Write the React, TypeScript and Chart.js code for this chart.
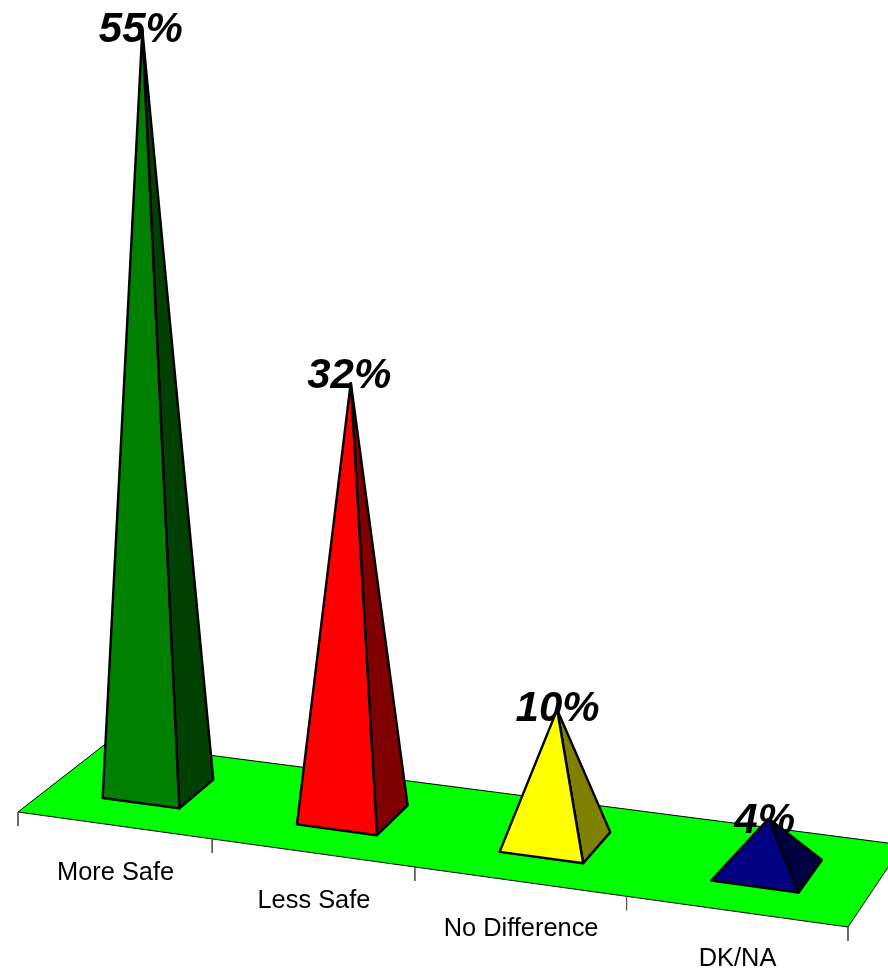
import React, { useEffect, useRef } from "react";
import { Chart, registerables } from "chart.js";

Chart.register(...registerables);

const categories = ["More Safe", "Less Safe", "No Difference", "DK/NA"];
const values = [55, 32, 10, 4];
const valueLabels = ["55%", "32%", "10%", "4%"];
const frontColors = ["#008000", "#FF0000", "#FFFF00", "#000080"];
const sideColors = ["#004000", "#800000", "#808000", "#000040"];
const floorColor = "#00FF00";

const WIDTH = 888;
const HEIGHT = 974;

type Pt = { x: number; y: number };

// Floor homography: u along the categories (0..1), v in depth (0..1)
const A = 758.97, B = 95.38, C = 18, D = 37.35, E = -33.03, F = 812, G = -0.08376, H = 0.04982;
const HALF_WIDTH = 0.2;
const DEPTH_FRONT = 0.3;
const DEPTH_BACK = 0.7;

// Label placement relative to each apex, in pixels
const labelShiftX = [-1.5, -1.5, 0.5, -4];
const labelShiftY = [12, 6, 11, 14.5];

const floorW = (t: number, v: number) => (G * t) / categories.length + H * v + 1;
const floorPt = (t: number, v: number): Pt => {
  const u = t / categories.length;
  const w = floorW(t, v);
  return { x: (A * u + B * v + C) / w, y: (D * u + E * v + F) / w };
};
const apexPt = (t: number, value: number): Pt => {
  const base = floorPt(t, 0.5);
  return {
    x: base.x + (base.x - 400) * value * 0.0012,
    y: base.y - 13.6 * floorW(t, 0.5) * value,
  };
};

function polygon(points: Pt[], fillColor: string, lineWidth: number) {
  return {
    data: [...points, points[0]],
    showLine: true,
    pointRadius: 0,
    borderColor: "#000000",
    borderWidth: lineWidth,
    borderJoinStyle: "round",
    backgroundColor: fillColor,
    tension: 0,
    clip: false,
    polyFill: true,
  };
}

function buildDatasets() {
  const n = categories.length;
  const list: any[] = [];
  list.push({ ...polygon([floorPt(0, 0), floorPt(n, 0), floorPt(n, 1), floorPt(0, 1)], floorColor, 1), isFloor: true });
  for (let i = 0; i <= n; i++) {
    const p = floorPt(i, 0);
    list.push({
      data: [p, { x: p.x, y: p.y + 14 }],
      showLine: true,
      pointRadius: 0,
      borderColor: "#555555",
      borderWidth: 1,
      clip: false,
    });
  }
  values.forEach((value, i) => {
    const t = i + 0.5;
    const fl = floorPt(t - HALF_WIDTH, DEPTH_FRONT);
    const fr = floorPt(t + HALF_WIDTH, DEPTH_FRONT);
    const br = floorPt(t + HALF_WIDTH, DEPTH_BACK);
    const apex = apexPt(t, value);
    list.push(polygon([apex, fr, br], sideColors[i], 2.4));
    list.push(polygon([apex, fl, fr], frontColors[i], 2.4));
  });
  // Chart.js paints the lowest "order" last
  return list.map((d, idx) => ({ ...d, order: list.length - idx }));
}

const pyramidPlugin = {
  id: "pyramidPlugin",
  beforeDatasetDraw(chart: any, args: any) {
    const ds = chart.data.datasets[args.index];
    if (!ds.polyFill) return;
    const pts = args.meta.data;
    const ctx = chart.ctx;
    ctx.save();
    ctx.beginPath();
    pts.forEach((p: any, i: number) => (i ? ctx.lineTo(p.x, p.y) : ctx.moveTo(p.x, p.y)));
    ctx.closePath();
    ctx.fillStyle = ds.backgroundColor;
    ctx.fill();
    ctx.restore();
  },
  afterDatasetDraw(chart: any, args: any) {
    const ds = chart.data.datasets[args.index];
    if (!ds.isFloor) return;
    const ctx = chart.ctx;
    const sx = chart.scales.x;
    const sy = chart.scales.y;
    ctx.save();
    ctx.fillStyle = "#000000";
    ctx.textAlign = "center";
    ctx.font = '25.4px "Liberation Sans", Arial, sans-serif';
    ctx.textBaseline = "middle";
    categories.forEach((label, i) => {
      const p = floorPt(i + 0.5, 0);
      ctx.fillText(label, sx.getPixelForValue(p.x + 1.5), sy.getPixelForValue(p.y + 48));
    });
    ctx.font = 'italic bold 42px "Liberation Sans", Arial, sans-serif';
    ctx.textBaseline = "alphabetic";
    valueLabels.forEach((label, i) => {
      const p = apexPt(i + 0.5, values[i]);
      ctx.fillText(label, sx.getPixelForValue(p.x + labelShiftX[i]), sy.getPixelForValue(p.y + labelShiftY[i]));
    });
    ctx.restore();
  },
};

export default function App() {
  const ref = useRef<HTMLCanvasElement | null>(null);
  useEffect(() => {
    document.body.style.margin = "0";
    const chart = new Chart(ref.current as HTMLCanvasElement, {
      type: "scatter",
      data: { datasets: buildDatasets() as any },
      options: {
        animation: false,
        responsive: false,
        events: [],
        layout: { padding: 0 },
        plugins: { legend: { display: false }, tooltip: { enabled: false }, title: { display: false } },
        scales: {
          x: { type: "linear", min: 0, max: WIDTH, display: false },
          y: { type: "linear", min: 0, max: HEIGHT, reverse: true, display: false },
        },
      },
      plugins: [pyramidPlugin],
    } as any);
    return () => chart.destroy();
  }, []);
  return (
    <div style={{ position: "absolute", left: 0, top: 0, width: WIDTH, height: HEIGHT }}>
      <canvas ref={ref} width={WIDTH} height={HEIGHT} style={{ display: "block" }} />
    </div>
  );
}
